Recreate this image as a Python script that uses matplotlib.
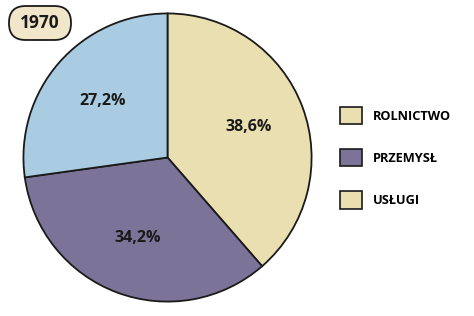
import matplotlib.pyplot as plt
from matplotlib.patches import Patch, FancyBboxPatch

plt.rcParams["font.family"] = ["Open Sans", "DejaVu Sans"]
plt.rcParams["font.weight"] = "bold"

year = "1970"
sectors = ["ROLNICTWO", "PRZEMYSŁ", "USŁUGI"]
shares = [38.6, 34.2, 27.2]
pie_colors = ["#EADFB0", "#7C7498", "#A9CCE3"]
legend_colors = ["#EADFB0", "#7C7498", "#EADFB0"]  # as in the original

W, H = 474, 316
fig = plt.figure(figsize=(W / 100, H / 100), dpi=100)
ax = fig.add_axes([0.0464, 0.041, 0.614, 0.921])

wedges, _, autotexts = ax.pie(
    shares,
    colors=pie_colors,
    startangle=90,
    counterclock=False,
    autopct=lambda p: f"{p:.1f}%".replace(".", ","),
    pctdistance=0.6,
    wedgeprops=dict(edgecolor="#1a1a1a", linewidth=1.3),
    textprops=dict(fontsize=11.5, fontweight="bold", color="#1a1a1a"),
)
ax.set_xlim(-1.01, 1.01)
ax.set_ylim(-1.01, 1.01)
ax.set_aspect("equal")

# year tag in the top-left corner
box = FancyBboxPatch(
    (9 / W, 1 - 40 / H), 62 / W, 34 / H,
    boxstyle="round,pad=0,rounding_size=0.035",
    transform=fig.transFigure, fc="#F1E6CA", ec="#1a1a1a", lw=1.3,
    mutation_aspect=W / H,
)
fig.patches.append(box)
fig.text(40 / W, 1 - 23 / H, year, ha="center", va="center",
         fontsize=12.5, fontweight="bold", color="#1a1a1a")

handles = [Patch(facecolor=c, edgecolor="#1a1a1a", linewidth=1.2) for c in legend_colors]
fig.legend(
    handles, sectors,
    loc="upper left", bbox_to_anchor=(340 / W, 1 - 107 / H),
    frameon=False, fontsize=9.2, handlelength=1.7, handleheight=1.7,
    labelspacing=1.95, handletextpad=0.85, borderpad=0, borderaxespad=0,
)

fig.savefig("out.png", dpi=100)
